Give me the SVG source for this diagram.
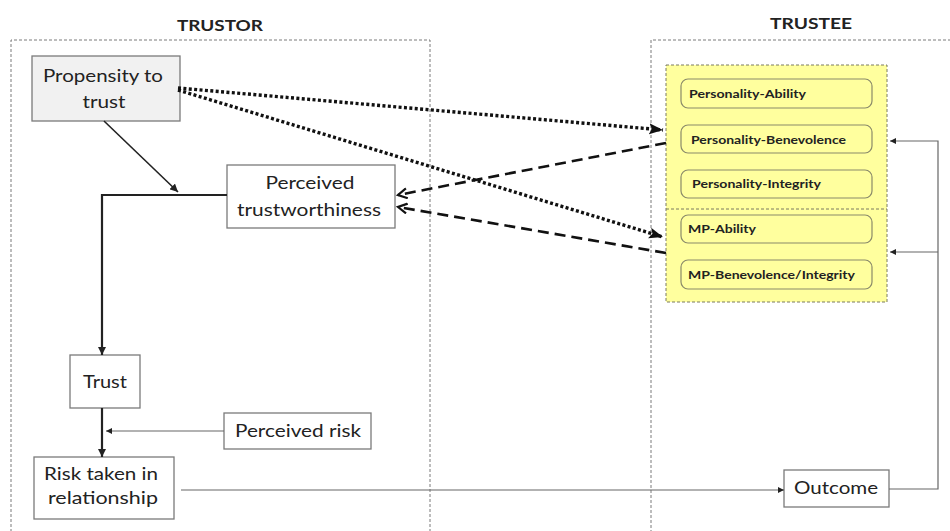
<svg xmlns="http://www.w3.org/2000/svg" width="950" height="531" viewBox="0 0 950 531">
  <defs>
    <style>
      .frame { fill: none; stroke: #7a7a7a; stroke-width: 1; stroke-dasharray: 3 2; }
      .box { fill: #ffffff; stroke: #7a7a7a; stroke-width: 1.3; }
      .pill { fill: #ffff9e; stroke: #8a8a6a; stroke-width: 1.2; }
      .label { font-family: Lato, "Open Sans", "Liberation Sans", sans-serif; font-size: 18px; fill: #222; text-anchor: middle; }
      .head { font-family: Lato, "Open Sans", "Liberation Sans", sans-serif; font-size: 16px; font-weight: bold; fill: #222; text-anchor: middle; }
      .trait { font-family: Lato, "Open Sans", "Liberation Sans", sans-serif; font-size: 11px; font-weight: bold; fill: #222; }
      .solid { fill: none; stroke: #222; }
      .thin { fill: none; stroke: #666; stroke-width: 1.2; }
      .dotted { fill: none; stroke: #111; stroke-width: 3.4; stroke-dasharray: 3 2.4; }
      .dashed { fill: none; stroke: #111; stroke-width: 2.6; stroke-dasharray: 11 6; }
    </style>
    <marker id="dotHead" markerUnits="userSpaceOnUse" markerWidth="15" markerHeight="12" refX="14" refY="6" orient="auto">
      <path d="M0,0.5 L14,6 L0,11.5 L3,6 z" fill="#111"/>
    </marker>
    <marker id="openHead" markerUnits="userSpaceOnUse" markerWidth="12" markerHeight="12" refX="10" refY="6" orient="auto">
      <path d="M1,1 L10,6 L1,11" fill="none" stroke="#111" stroke-width="2.2"/>
    </marker>
    <marker id="midHead" markerUnits="userSpaceOnUse" markerWidth="9" markerHeight="8" refX="8" refY="4" orient="auto">
      <path d="M0,0 L8,4 L0,8 z" fill="#222"/>
    </marker>
    <marker id="smallHead" markerUnits="userSpaceOnUse" markerWidth="7" markerHeight="6" refX="6" refY="3" orient="auto">
      <path d="M0,0 L6,3 L0,6 z" fill="#222"/>
    </marker>
  </defs>

  <rect width="950" height="531" fill="#ffffff"/>

  <!-- party frames -->
  <g id="trustor">
    <path class="frame" d="M11,532 V40 H430 V532"/>
    <text class="head" x="220" y="31" textLength="86" lengthAdjust="spacingAndGlyphs">TRUSTOR</text>
  </g>
  <g id="trustee">
    <path class="frame" d="M951,40 H651 V532"/>
    <text class="head" x="811" y="29" textLength="82" lengthAdjust="spacingAndGlyphs">TRUSTEE</text>
  </g>

  <!-- trustworthiness factors -->
  <g id="factors">
    <rect x="666" y="65" width="221" height="237" fill="#ffff9e" stroke="#7a7a60" stroke-width="1" stroke-dasharray="3 2"/>
    <line x1="666" y1="209" x2="887" y2="209" stroke="#7a7a60" stroke-width="1" stroke-dasharray="3 2"/>
  </g>
  <g id="personality-ability">
    <rect class="pill" x="681" y="79" width="191" height="29" rx="7"/>
    <text class="trait" x="689" y="98" textLength="117" lengthAdjust="spacingAndGlyphs">Personality-Ability</text>
  </g>
  <g id="personality-benevolence">
    <rect class="pill" x="681" y="125" width="191" height="28" rx="7"/>
    <text class="trait" x="691" y="144" textLength="155" lengthAdjust="spacingAndGlyphs">Personality-Benevolence</text>
  </g>
  <g id="personality-integrity">
    <rect class="pill" x="681" y="170" width="191" height="28" rx="7"/>
    <text class="trait" x="692" y="188" textLength="129" lengthAdjust="spacingAndGlyphs">Personality-Integrity</text>
  </g>
  <g id="mp-ability">
    <rect class="pill" x="681" y="215" width="191" height="28" rx="7"/>
    <text class="trait" x="688" y="233" textLength="68" lengthAdjust="spacingAndGlyphs">MP-Ability</text>
  </g>
  <g id="mp-benevolence-integrity">
    <rect class="pill" x="681" y="260" width="191" height="29" rx="7"/>
    <text class="trait" x="688" y="279" textLength="167" lengthAdjust="spacingAndGlyphs">MP-Benevolence/Integrity</text>
  </g>

  <!-- trustor nodes -->
  <g id="propensity">
    <rect x="32" y="56" width="148" height="65" fill="#f1f1f1" stroke="#7a7a7a" stroke-width="1.3"/>
    <text class="label" x="103" y="82" textLength="120" lengthAdjust="spacingAndGlyphs">Propensity to</text>
    <text class="label" x="104" y="108" textLength="43" lengthAdjust="spacingAndGlyphs">trust</text>
  </g>
  <g id="perceived-trustworthiness">
    <rect class="box" x="227" y="165" width="168" height="63"/>
    <text class="label" x="310" y="189" textLength="89" lengthAdjust="spacingAndGlyphs">Perceived</text>
    <text class="label" x="309" y="216" textLength="144" lengthAdjust="spacingAndGlyphs">trustworthiness</text>
  </g>
  <g id="trust">
    <rect class="box" x="70" y="355" width="70" height="53"/>
    <text class="label" x="105" y="388" textLength="44" lengthAdjust="spacingAndGlyphs">Trust</text>
  </g>
  <g id="perceived-risk">
    <rect class="box" x="224" y="413" width="147" height="36"/>
    <text class="label" x="298" y="437" textLength="126" lengthAdjust="spacingAndGlyphs">Perceived risk</text>
  </g>
  <g id="risk-taken">
    <rect class="box" x="34" y="457" width="140" height="62"/>
    <text class="label" x="101" y="480" textLength="114" lengthAdjust="spacingAndGlyphs">Risk taken in</text>
    <text class="label" x="103" y="504" textLength="110" lengthAdjust="spacingAndGlyphs">relationship</text>
  </g>
  <g id="outcome">
    <rect class="box" x="784" y="470" width="105" height="37"/>
    <text class="label" x="836" y="494" textLength="84" lengthAdjust="spacingAndGlyphs">Outcome</text>
  </g>

  <!-- connectors -->
  <g id="connectors">
    <path class="dotted" d="M178,88 L663,130" marker-end="url(#dotHead)"/>
    <path class="dotted" d="M178,90 L663,237" marker-end="url(#dotHead)"/>
    <path class="dashed" d="M666,143 L398,195" marker-end="url(#openHead)"/>
    <path class="dashed" d="M666,253 L398,207" marker-end="url(#openHead)"/>
    <path class="solid" stroke-width="1.6" d="M104,121 L178,192" marker-end="url(#midHead)"/>
    <path class="solid" stroke-width="2.2" d="M227,195 H102 V355" marker-end="url(#midHead)"/>
    <path class="solid" stroke-width="2.2" d="M102,408 V457" marker-end="url(#midHead)"/>
    <path class="thin" d="M224,431 H106" marker-end="url(#smallHead)"/>
    <path class="thin" d="M181,490 H784" marker-end="url(#smallHead)"/>
    <path class="thin" d="M889,489 H938 V141 H890" marker-end="url(#smallHead)"/>
    <path class="thin" d="M938,252 H890" marker-end="url(#smallHead)"/>
  </g>
</svg>
